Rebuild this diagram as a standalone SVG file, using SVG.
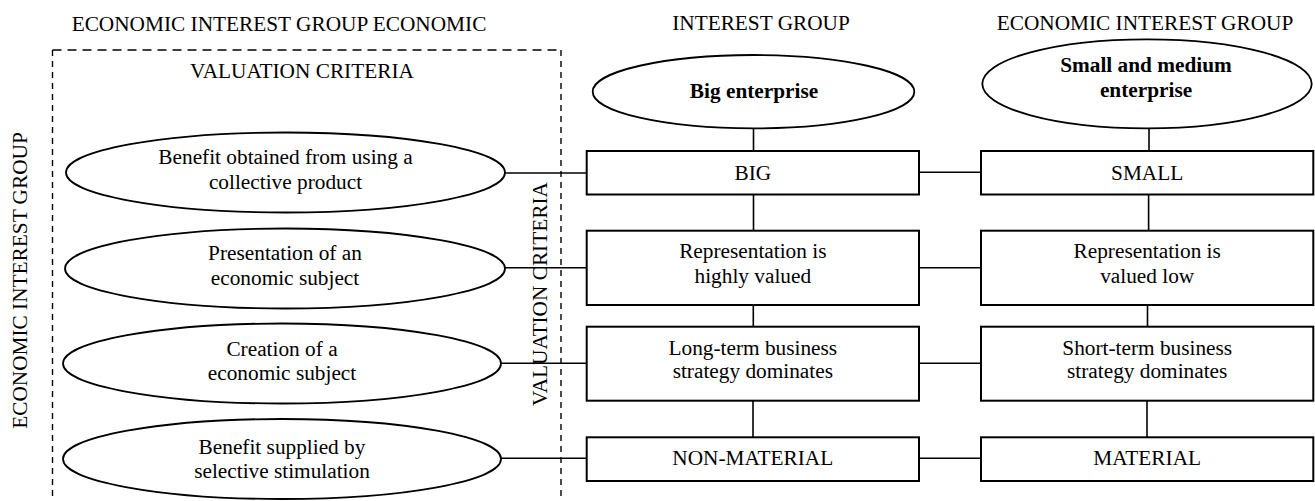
<svg xmlns="http://www.w3.org/2000/svg" width="1315" height="501" viewBox="0 0 1315 501">
<style>
  text { font-family: "Liberation Serif", "Times New Roman", serif; font-size: 21.3px; fill: #000; text-anchor: middle; }
  .bold { font-weight: bold; }
  .ell { fill: #fff; stroke: #000; stroke-width: 1.8; }
  .box { fill: #fff; stroke: #000; stroke-width: 2; }
  .conn { stroke: #000; stroke-width: 1.6; fill: none; }
  .dashH { stroke: #000; stroke-width: 1.4; fill: none; stroke-dasharray: 9 6; }
  .dashV { stroke: #000; stroke-width: 1.4; fill: none; stroke-dasharray: 6 5; }
</style>
<rect width="1315" height="501" fill="#fff"/>

<g id="headers">
  <text x="279" y="31">ECONOMIC INTEREST GROUP ECONOMIC</text>
  <text x="761" y="30">INTEREST GROUP</text>
  <text x="1145" y="30">ECONOMIC INTEREST GROUP</text>
  <text transform="translate(26.5,280.5) rotate(-90)">ECONOMIC INTEREST GROUP</text>
</g>

<g id="criteria-frame">
  <line class="dashH" x1="52.5" y1="50" x2="561" y2="50"/>
  <line class="dashV" x1="52.5" y1="50" x2="52.5" y2="501"/>
  <line class="dashV" x1="561" y1="50" x2="561" y2="501"/>
  <text x="302" y="78">VALUATION CRITERIA</text>
</g>

<g id="connectors">
  <line class="conn" x1="505" y1="173" x2="587" y2="173"/>
  <line class="conn" x1="505" y1="267.7" x2="587" y2="267.7"/>
  <line class="conn" x1="501" y1="363.3" x2="587" y2="363.3"/>
  <line class="conn" x1="501" y1="458.3" x2="587" y2="458.3"/>
  <line class="conn" x1="753.5" y1="128.3" x2="753.5" y2="151"/>
  <line class="conn" x1="1149" y1="128.3" x2="1149" y2="151"/>
  <line class="conn" x1="753.5" y1="194.5" x2="753.5" y2="230.7"/>
  <line class="conn" x1="1148.6" y1="194.5" x2="1148.6" y2="230.7"/>
  <line class="conn" x1="753.3" y1="305" x2="753.3" y2="326.7"/>
  <line class="conn" x1="1147.5" y1="305" x2="1147.5" y2="326.7"/>
  <line class="conn" x1="753" y1="400.7" x2="753" y2="437.3"/>
  <line class="conn" x1="1147" y1="400.7" x2="1147" y2="437.3"/>
  <line class="conn" x1="919" y1="172.3" x2="981" y2="172.3"/>
  <line class="conn" x1="919" y1="267.7" x2="981" y2="267.7"/>
  <line class="conn" x1="919" y1="363.3" x2="981" y2="363.3"/>
  <line class="conn" x1="919" y1="458.3" x2="981" y2="458.3"/>
</g>

<g id="vertical-label">
  <text transform="translate(546.5,294) rotate(-90)">VALUATION CRITERIA</text>
</g>

<g id="crit1">
  <ellipse class="ell" cx="285.5" cy="172.5" rx="219.5" ry="40"/>
  <text x="285.5" y="163.5">Benefit obtained from using a</text>
  <text x="285.5" y="188.5">collective product</text>
</g>
<g id="crit2">
  <ellipse class="ell" cx="285" cy="268.5" rx="220" ry="40"/>
  <text x="285" y="260.3">Presentation of an</text>
  <text x="285" y="285.3">economic subject</text>
</g>
<g id="crit3">
  <ellipse class="ell" cx="282" cy="363.5" rx="219" ry="40"/>
  <text x="282" y="356">Creation of a</text>
  <text x="282" y="379.5">economic subject</text>
</g>
<g id="crit4">
  <ellipse class="ell" cx="282" cy="459" rx="219" ry="40"/>
  <text x="282" y="454">Benefit supplied by</text>
  <text x="282" y="477.5">selective stimulation</text>
</g>

<g id="big-enterprise">
  <ellipse class="ell" cx="753.5" cy="91.7" rx="160.8" ry="36.7"/>
  <text class="bold" x="754" y="97.5">Big enterprise</text>
</g>
<g id="sme">
  <ellipse class="ell" cx="1147" cy="83.8" rx="164.7" ry="44.5"/>
  <text class="bold" x="1146" y="71.7">Small and medium</text>
  <text class="bold" x="1146" y="96.7">enterprise</text>
</g>

<g id="big">
  <rect class="box" x="586.7" y="151" width="332.3" height="43.5"/>
  <text x="752.8" y="180">BIG</text>
</g>
<g id="small">
  <rect class="box" x="981" y="151" width="332.3" height="43.5"/>
  <text x="1147.2" y="180">SMALL</text>
</g>
<g id="rep-high">
  <rect class="box" x="586.7" y="230.7" width="332.3" height="74.3"/>
  <text x="752.8" y="258.3">Representation is</text>
  <text x="752.8" y="283.3">highly valued</text>
</g>
<g id="rep-low">
  <rect class="box" x="981" y="230.7" width="332.3" height="74.3"/>
  <text x="1147.2" y="258.3">Representation is</text>
  <text x="1147.2" y="283.3">valued low</text>
</g>
<g id="long-term">
  <rect class="box" x="586.7" y="326.7" width="332.3" height="74"/>
  <text x="752.8" y="355">Long-term business</text>
  <text x="752.8" y="378.3">strategy dominates</text>
</g>
<g id="short-term">
  <rect class="box" x="981" y="326.7" width="332.3" height="74"/>
  <text x="1147.2" y="355">Short-term business</text>
  <text x="1147.2" y="378.3">strategy dominates</text>
</g>
<g id="non-material">
  <rect class="box" x="586.7" y="437.3" width="332.3" height="43.7"/>
  <text x="752.8" y="465">NON-MATERIAL</text>
</g>
<g id="material">
  <rect class="box" x="981" y="437.3" width="332.3" height="43.7"/>
  <text x="1147.2" y="465">MATERIAL</text>
</g>
</svg>
